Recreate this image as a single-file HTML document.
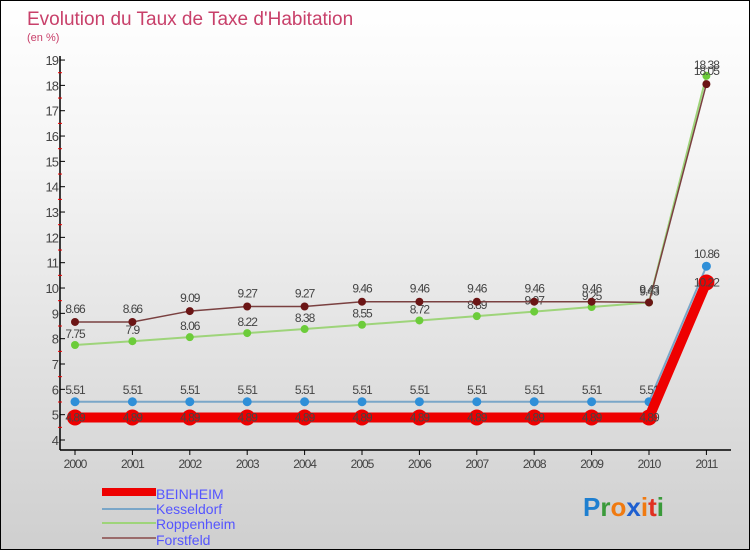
<!DOCTYPE html>
<html><head><meta charset="utf-8"><style>
body{margin:0}
#c{position:relative;width:748px;height:548px;border:1px solid #000;background:linear-gradient(#fff,#f4f4f4 30%,#cfcfcf);font-family:"Liberation Sans",sans-serif;overflow:hidden}
svg text{font-family:"Liberation Sans",sans-serif}
</style></head><body>
<div id="c">
<svg id="s" width="748" height="548">
<text x="26" y="24" font-size="19" fill="#c8406a">Evolution du Taux de Taxe d'Habitation</text>
<text x="26" y="40" font-size="11" fill="#c8406a">(en %)</text>
<g id="axes"></g><g id="series"></g>
<g>
<rect x="101" y="487" width="54" height="8" fill="#e00"/>
<text x="155" y="498" font-size="14" fill="#55f">BEINHEIM</text>
<line x1="101" y1="508" x2="155" y2="508" stroke="#7aa6c8" stroke-width="2"/>
<text x="155" y="513" font-size="14" fill="#55f">Kesseldorf</text>
<line x1="101" y1="522" x2="155" y2="522" stroke="#9ed47a" stroke-width="2"/>
<text x="155" y="528" font-size="14" fill="#55f">Roppenheim</text>
<line x1="101" y1="537" x2="155" y2="537" stroke="#9a6b6b" stroke-width="2"/>
<text x="155" y="544" font-size="14" fill="#55f">Forstfeld</text>
</g>
<g font-size="26" font-weight="bold">
<text x="582" y="515"><tspan fill="#1e7fd0">P</tspan><tspan fill="#3a9a3a">r</tspan><tspan fill="#f07a10">o</tspan><tspan fill="#1e5fd0">x</tspan><tspan fill="#f07a10">i</tspan><tspan fill="#e03020">t</tspan><tspan fill="#3a9a3a">i</tspan></text>
</g>
</svg>
</div>
<script>
const years=[2000,2001,2002,2003,2004,2005,2006,2007,2008,2009,2010,2011];
const yTicks=[4,5,6,7,8,9,10,11,12,13,14,15,16,17,18,19];
const beinheim=[4.89,4.89,4.89,4.89,4.89,4.89,4.89,4.89,4.89,4.89,4.89,10.22];
const kesseldorf=[5.51,5.51,5.51,5.51,5.51,5.51,5.51,5.51,5.51,5.51,5.51,10.86];
const roppenheim=[7.75,7.9,8.06,8.22,8.38,8.55,8.72,8.89,9.07,9.25,9.43,18.38];
const forstfeld=[8.66,8.66,9.09,9.27,9.27,9.46,9.46,9.46,9.46,9.46,9.43,18.05];
const NS="http://www.w3.org/2000/svg";
const x=i=>74+i*57.4;
const y=v=>439-(v-4)*25.33;
function mk(t,a,p){const e=document.createElementNS(NS,t);for(const k in a)e.setAttribute(k,a[k]);p.appendChild(e);return e;}
const ax=document.getElementById('axes'),sg=document.getElementById('series');
let l=mk('line',{x1:59,y1:y(19)-4,x2:59,y2:449,stroke:'#000','stroke-width':1.5},ax);


l=mk('line',{x1:59,y1:449,x2:730,y2:449,stroke:'#000','stroke-width':1.5},ax);


yTicks.forEach(v=>{
 mk('line',{x1:59,y1:y(v),x2:64,y2:y(v),stroke:'#000'},ax);
 if(v<19)mk('line',{x1:57,y1:y(v+0.5),x2:61,y2:y(v+0.5),stroke:'#e00'},ax);
 const t=mk('text',{x:57,y:y(v)+5,'font-size':13,fill:'#444','text-anchor':'end','letter-spacing':'-1'},ax);
 t.textContent=v;
 
 
});
years.forEach((yr,i)=>{
 mk('line',{x1:x(i),y1:449,x2:x(i),y2:454,stroke:'#000'},ax);
 const t=mk('text',{x:x(i),y:467,'font-size':12,fill:'#444','text-anchor':'middle','letter-spacing':'-1'},ax);
 t.textContent=yr;
 
 
});
function series(name,vals,color,w,r,dotc,lblAbove){
 const p=mk('polyline',{points:vals.map((v,i)=>x(i)+','+y(v)).join(' '),fill:'none',stroke:color,'stroke-width':w},sg);
 
 
 vals.forEach((v,i)=>{
  const c=mk('circle',{cx:x(i),cy:y(v),r:r,fill:dotc},sg);
  
  
  const t=mk('text',{x:x(i),y:y(v)+lblAbove,'font-size':12,fill:'#444','text-anchor':'middle','letter-spacing':'-1'},sg);
  t.textContent=v;
  
  
 });
}
series('kesseldorf',kesseldorf,'#7aa6c8',2,4.5,'#2f8fd8',-8);
series('roppenheim',roppenheim,'#9ed47a',2,4,'#6ccc3a',-7);
series('forstfeld',forstfeld,'#7a4040',1.5,4,'#6b1515',-9);
series('beinheim',beinheim,'#ee0000',10,8,'#ee0000',4);
</script>
</body></html>
